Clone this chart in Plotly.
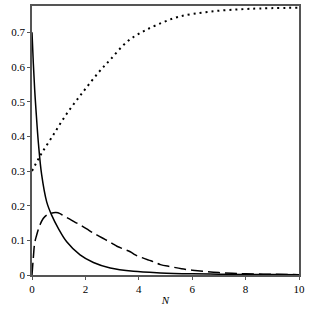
import plotly.graph_objects as go

# Solid curve
n_solid = [0, 0.05, 0.1, 0.15, 0.24, 0.36, 0.55, 0.74, 0.99, 1.3, 1.8, 2.3, 2.93, 3.8, 4.81, 6, 7, 8, 9, 10]
v_solid = [0.7, 0.61, 0.535, 0.475, 0.38, 0.29, 0.211, 0.172, 0.134, 0.096, 0.058, 0.036, 0.02, 0.0105, 0.006,
           0.0035, 0.0025, 0.0018, 0.0013, 0.001]

# Dashed curve
n_dash = [0, 0.05, 0.1, 0.17, 0.3, 0.42, 0.55, 0.7, 0.9, 1.05, 1.18, 1.4, 1.62, 1.8, 2.05, 2.3, 2.49, 2.75, 3.0,
          3.18, 3.43, 3.68, 3.87, 4.12, 4.37, 4.56, 4.81, 5.2, 5.6, 6.0, 6.5, 7.0, 7.5, 8.0, 9.0, 10.0]
v_dash = [0, 0.05, 0.092, 0.114, 0.145, 0.163, 0.173, 0.178, 0.180, 0.177, 0.171, 0.162, 0.152, 0.145, 0.133,
          0.121, 0.113, 0.102, 0.091, 0.083, 0.075, 0.067, 0.058, 0.050, 0.043, 0.038, 0.030, 0.024, 0.018,
          0.014, 0.010, 0.007, 0.005, 0.0035, 0.002, 0.001]

# Dotted curve
n_dot = [0, 0.3, 0.74, 1.3, 1.93, 2.5, 2.93, 3.56, 4.1, 4.69, 5.5, 6.69, 8.2, 10]
v_dot = [0.30, 0.343, 0.397, 0.465, 0.53, 0.585, 0.621, 0.673, 0.70, 0.722, 0.745, 0.760, 0.768, 0.771]

x_ticks = [0, 2, 4, 6, 8, 10]
y_ticks = [0, 0.1, 0.2, 0.3, 0.4, 0.5, 0.6, 0.7]

fig = go.Figure()
fig.add_trace(go.Scatter(x=n_dot, y=v_dot, mode="lines", line=dict(color="black", width=2, dash="2px,4px", shape="spline")))
fig.add_trace(go.Scatter(x=n_dash, y=v_dash, mode="lines", line=dict(color="black", width=1.5, dash="12px,5px", shape="spline")))
fig.add_trace(go.Scatter(x=n_solid, y=v_solid, mode="lines", line=dict(color="black", width=1.5, shape="spline")))

font = dict(family="Liberation Serif, Times New Roman, serif", size=11, color="black")
fig.update_layout(
    width=309, height=309,
    margin=dict(l=32, r=9, t=4, b=32),
    paper_bgcolor="white", plot_bgcolor="white",
    showlegend=False,
    font=font,
    xaxis=dict(range=[0, 10], tickvals=x_ticks, showgrid=False, zeroline=False, showline=True, mirror=True,
               linecolor="#555", linewidth=1.5, ticks="outside", ticklen=3, tickcolor="#555",
               title=dict(text="<i>N</i>", font=font, standoff=2), tickfont=font),
    yaxis=dict(range=[0, 0.776], tickvals=y_ticks, showgrid=False, zeroline=False, showline=True, mirror=True,
               linecolor="#555", linewidth=1.5, ticks="outside", ticklen=3, tickcolor="#555", tickfont=font),
)
fig.write_html("out.html", config={"displayModeBar": False},
               post_script="document.body.style.margin='0';document.body.style.padding='0';")
